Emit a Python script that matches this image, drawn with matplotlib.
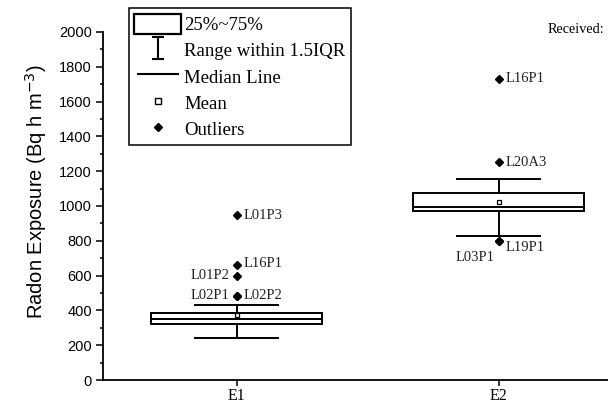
import numpy as np
import matplotlib
matplotlib.use('Agg')
import matplotlib.pyplot as plt
from matplotlib.path import Path
from matplotlib.patches import Patch
from matplotlib.lines import Line2D
from matplotlib.ticker import MultipleLocator

# Box statistics per exposure group
groups = ['E1', 'E2']
q1 = [322, 971]
median = [352, 996]
q3 = [383, 1072]
whisker_lo = [243, 829]
whisker_hi = [429, 1157]
mean = [375, 1025]

# Outliers and their sample codes
outliers_e1 = [948, 661, 600, 483, 483]
names_e1 = ['L01P3', 'L16P1', 'L01P2', 'L02P1', 'L02P2']
outliers_e2 = [1730, 1251, 799, 799]
names_e2 = ['L16P1', 'L20A3', 'L19P1', 'L03P1']

# Label placement (points offset, horizontal alignment)
label_pos = {
    ('E1', 'L01P3'): ((5, 0), 'left'),
    ('E1', 'L16P1'): ((5, 1), 'left'),
    ('E1', 'L01P2'): ((-5, 0), 'right'),
    ('E1', 'L02P1'): ((-5, 0), 'right'),
    ('E1', 'L02P2'): ((5, 0), 'left'),
    ('E2', 'L16P1'): ((5, 0), 'left'),
    ('E2', 'L20A3'): ((5, 0), 'left'),
    ('E2', 'L19P1'): ((5, -5), 'left'),
    ('E2', 'L03P1'): ((-3, -12), 'right'),
}

serif = 'Liberation Serif'
sans = 'Liberation Sans'

fig = plt.figure(figsize=(6.08, 4.04), dpi=100)
ax = fig.add_axes([0.1694, 0.0594, 0.8306, 0.8616])

stats = []
fliers = [outliers_e1, outliers_e2]
for i in range(len(groups)):
    stats.append(dict(label=groups[i], q1=q1[i], med=median[i], q3=q3[i],
                      whislo=whisker_lo[i], whishi=whisker_hi[i],
                      mean=mean[i], fliers=np.array(fliers[i])))

pos = [1, 2]
ax.bxp(stats, positions=pos, widths=0.65, showmeans=True, showfliers=True,
       patch_artist=True,
       boxprops=dict(facecolor='white', edgecolor='black', linewidth=1.4),
       medianprops=dict(color='black', linewidth=1.4),
       whiskerprops=dict(color='black', linewidth=1.4),
       capprops=dict(color='black', linewidth=1.4),
       capwidths=0.32,
       meanprops=dict(marker='s', markersize=3.5, markerfacecolor='white',
                      markeredgecolor='black', markeredgewidth=0.9),
       flierprops=dict(marker='D', markersize=3.8, markerfacecolor='black',
                       markeredgecolor='black'))

for p, g, vals, names in zip(pos, groups, fliers, [names_e1, names_e2]):
    for v, n in zip(vals, names):
        off, ha = label_pos[(g, n)]
        ax.annotate(n, (p, v), xytext=off, textcoords='offset points',
                    ha=ha, va='center', fontsize=10.5, family=serif,
                    color='#222222')

ax.set_xlim(0.49, 2.418)
ax.set_ylim(0, 2000)
ax.set_xticks(pos)
ax.set_xticklabels(groups, fontsize=11.5, family=serif)
ax.yaxis.set_major_locator(MultipleLocator(200))
ax.yaxis.set_minor_locator(MultipleLocator(100))
ax.tick_params(axis='y', which='major', direction='out', length=5, width=1.1,
               labelsize=10.5, pad=3)
ax.tick_params(axis='y', which='minor', direction='out', length=2.5, width=1.1)
ax.tick_params(axis='x', direction='out', length=4, width=1.1, pad=2)
for lab in ax.get_yticklabels():
    lab.set_family(sans)
ax.spines['top'].set_visible(False)
ax.spines['right'].set_visible(False)
ax.spines['left'].set_linewidth(1.3)
ax.spines['bottom'].set_linewidth(1.3)
ax.set_ylabel('Radon Exposure (Bq h m$^{-3}$)', fontsize=14.5, family=sans)
ax.yaxis.set_label_coords(-0.106, 0.54)

# Legend handles
ibeam = Path([(-0.5, 1), (0.5, 1), (0, 1), (0, -1), (-0.5, -1), (0.5, -1)],
             [Path.MOVETO, Path.LINETO, Path.MOVETO, Path.LINETO,
              Path.MOVETO, Path.LINETO])
handles = [
    Patch(facecolor='white', edgecolor='black', linewidth=1.6),
    Line2D([], [], linestyle='none', marker=ibeam, markersize=16,
           markeredgecolor='black', markeredgewidth=1.5),
    Line2D([], [], linestyle='none', marker='_', markersize=30,
           markeredgecolor='black', markeredgewidth=1.5),
    Line2D([], [], linestyle='none', marker='s', markersize=3.8,
           markerfacecolor='white', markeredgecolor='black',
           markeredgewidth=1.0),
    Line2D([], [], linestyle='none', marker='D', markersize=4,
           markerfacecolor='black', markeredgecolor='black'),
]
labels = ['25%~75%', 'Range within 1.5IQR', 'Median Line', 'Mean', 'Outliers']
leg = ax.legend(handles, labels, loc='upper left',
                bbox_to_anchor=(0.051, 1.069), borderaxespad=0,
                prop=dict(family=serif, size=13.5), fancybox=False,
                edgecolor='black', framealpha=1, handlelength=2.5,
                handleheight=1.28, labelspacing=0.32, handletextpad=0.15,
                borderpad=0.3)
leg.get_frame().set_linewidth(1.1)

fig.text(0.993, 0.926, 'Received:', ha='right', va='center', fontsize=10.3,
         family=serif)

fig.savefig('out.png', dpi=100)
